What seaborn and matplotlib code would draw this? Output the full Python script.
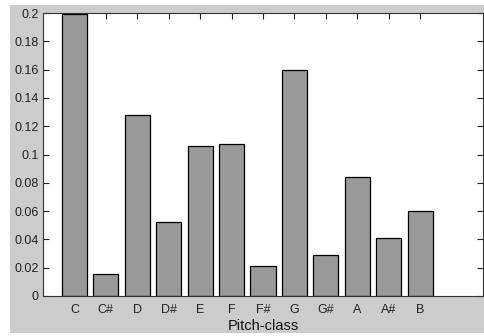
import matplotlib
matplotlib.use("Agg")
import matplotlib.pyplot as plt
import seaborn as sns
import pandas as pd
from matplotlib.patches import Rectangle

pitch_classes = ["C", "C#", "D", "D#", "E", "F", "F#", "G", "G#", "A", "A#", "B"]
proportions = [0.199, 0.0154, 0.128, 0.0524, 0.106, 0.1075, 0.0214, 0.160, 0.0288, 0.084, 0.0413, 0.0599]
y_ticks = [0, 0.02, 0.04, 0.06, 0.08, 0.10, 0.12, 0.14, 0.16, 0.18, 0.20]
y_tick_labels = ["0", "0.02", "0.04", "0.06", "0.08", "0.1", "0.12", "0.14", "0.16", "0.18", "0.2"]

sns.set_style("white")
plt.rcParams['font.family'] = ['Liberation Sans', 'DejaVu Sans']

W, H = 485, 336
fig = plt.figure(figsize=(W / 100, H / 100), dpi=100)
fig.patch.set_facecolor("white")
fig.patches.append(Rectangle((10 / W, 3 / H), (484 - 10) / W, (331 - 3) / H,
                             transform=fig.transFigure, facecolor="#cccccc",
                             edgecolor="none", zorder=-10))

ax = fig.add_axes([43 / W, (H - 296) / H, (483 - 43) / W, (296 - 13) / H])
ax.set_facecolor("white")

df = pd.DataFrame({"pos": list(range(1, 13)), "val": proportions})
sns.barplot(data=df, x="pos", y="val", native_scale=True, width=0.8,
            color="#999999", saturation=1, edgecolor="black", linewidth=0.9, ax=ax)

ax.set_xlim(0, 14)
ax.set_ylim(0, 0.2)
ax.set_xticks(range(1, 13))
ax.set_xticklabels(pitch_classes)
ax.set_yticks(y_ticks)
ax.set_yticklabels(y_tick_labels)
ax.set_xlabel("Pitch-class", fontsize=10.5, fontweight="medium", labelpad=2, color="#111111")
ax.set_ylabel("")
ax.tick_params(direction="in", length=4, width=0.8, labelsize=9, colors="#222222",
               top=True, right=True, bottom=True, left=True)
ax.tick_params(axis="x", pad=6)
ax.tick_params(axis="y", pad=3)
for s in ax.spines.values():
    s.set_visible(True)
    s.set_color("#333333")
    s.set_linewidth(0.8)

fig.savefig("out.png", dpi=100, facecolor=fig.get_facecolor())
